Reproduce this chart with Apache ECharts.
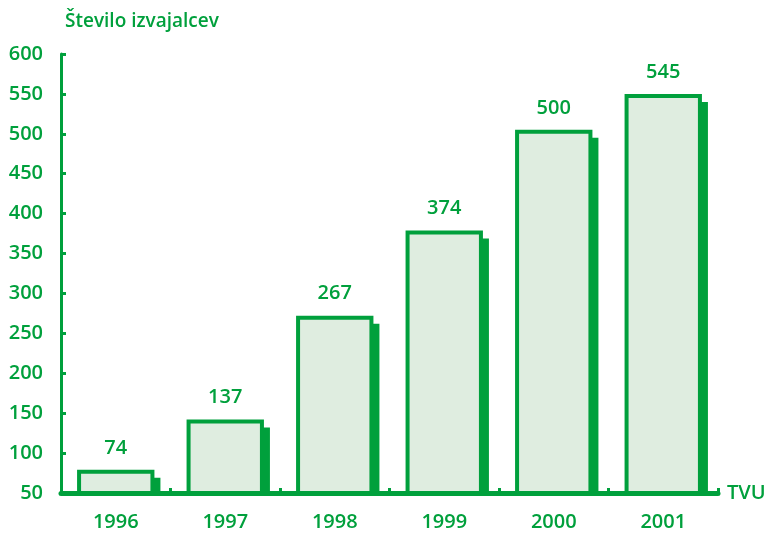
<!DOCTYPE html>
<html>
<head>
<meta charset="utf-8">
<script src="https://cdn.jsdelivr.net/npm/echarts@6/dist/echarts.min.js"></script>
<style>
html, body { margin: 0; padding: 0; background: #fff; }
#main { width: 769px; height: 533px; }
</style>
</head>
<body>
<div id="main"></div>
<script>
var years = ['1996', '1997', '1998', '1999', '2000', '2001'];
var counts = [74, 137, 267, 374, 500, 545];
var yTicks = [50, 600, 50]; // min, max, step

var green = '#00a03c';
var fill = '#dfede0';
var font = '"Open Sans", "Noto Sans", sans-serif';

var myChart = echarts.init(document.getElementById('main'));

var data = [];
for (var i = 0; i < years.length; ++i)
	data.push([i, counts[i]]);

function renderBar(params, api) {
	var top = api.coord([api.value(0), api.value(1)]);
	var base = api.coord([api.value(0), yTicks[0]]);
	var w = api.size([1, 0])[0] * 0.67;
	var x = top[0] - w / 2;
	var y = top[1] - 2;
	var h = base[1] - y;
	return {
		type: 'group',
		children: [
			{
				type: 'rect',
				shape: { x: x + 8, y: y + 6, width: w, height: h - 6 },
				style: { fill: green }
			},
			{
				type: 'rect',
				shape: { x: x, y: y, width: w, height: h },
				style: { fill: fill, stroke: green, lineWidth: 4 }
			},
			{
				type: 'text',
				style: {
					x: top[0],
					y: y - 24,
					text: String(api.value(1)),
					fill: green,
					font: '600 20px ' + font,
					align: 'center',
					verticalAlign: 'middle'
				}
			}
		]
	};
}

var option = {
	backgroundColor: '#fff',
	animation: false,
	title: {
		text: 'Število izvajalcev',
		left: 60,
		top: 7,
		textStyle: { color: green, fontSize: 19, fontWeight: 600, fontFamily: font }
	},
	grid: { left: 61, right: 51, top: 54, bottom: 40 },
	xAxis: {
		type: 'category',
		data: years,
		name: 'TVU',
		nameLocation: 'end',
		nameGap: 9,
		nameTextStyle: { color: green, fontSize: 20, fontWeight: 600, fontFamily: font, verticalAlign: 'middle' },
		axisLine: { lineStyle: { color: green, width: 5 } },
		axisTick: { show: true, inside: true, length: 5, lineStyle: { color: green, width: 3 } },
		axisLabel: { color: green, fontSize: 20, fontWeight: 600, fontFamily: font, margin: 19 },
		z: 5
	},
	yAxis: {
		type: 'value',
		min: yTicks[0],
		max: yTicks[1],
		interval: yTicks[2],
		axisLine: { show: true, lineStyle: { color: green, width: 3 } },
		axisTick: { show: true, inside: true, length: 5, lineStyle: { color: green, width: 3 } },
		axisLabel: { color: green, fontSize: 20, fontWeight: 600, fontFamily: font, margin: 18 },
		splitLine: { show: false }
	},
	series: [{
		type: 'custom',
		renderItem: renderBar,
		data: data,
		encode: { x: 0, y: 1 },
		clip: false
	}]
};

myChart.setOption(option);
</script>
</body>
</html>
